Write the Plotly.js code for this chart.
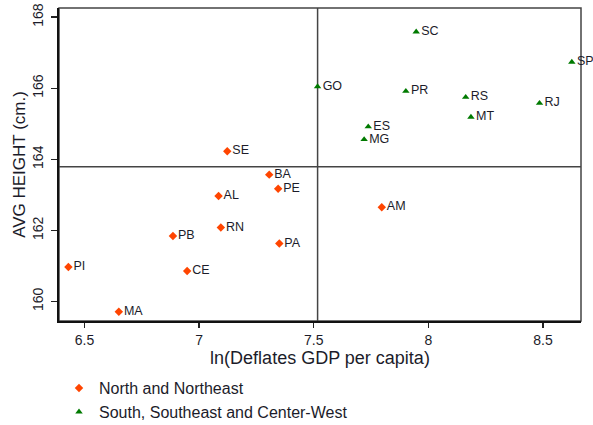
<!DOCTYPE html>
<html>
<head>
<meta charset="utf-8">
<script src="https://cdn.plot.ly/plotly-3.0.1.min.js"></script>
<style>html,body{margin:0;padding:0;background:#fff;}#chart{width:593px;height:425px;}</style>
</head>
<body>
<div id="chart"></div>
<script>
// North and Northeast
const nneStates = ["SE","BA","PE","AL","RN","PB","PA","PI","CE","MA","AM"];
const nneGdp    = [7.123, 7.306, 7.345, 7.085, 7.095, 6.886, 7.350, 6.430, 6.948, 6.650, 7.797];
const nneHeight = [164.23, 163.57, 163.17, 162.97, 162.08, 161.84, 161.63, 160.97, 160.86, 159.71, 162.65];

// South, Southeast and Center-West
const sscStates = ["SC","SP","GO","PR","RS","RJ","MT","ES","MG"];
const sscGdp    = [7.947, 8.626, 7.517, 7.902, 8.163, 8.485, 8.186, 7.738, 7.720];
const sscHeight = [167.59, 166.74, 166.05, 165.92, 165.75, 165.58, 165.19, 164.92, 164.56];

const refX = 7.517;   // vertical reference line
const refY = 163.79;  // horizontal reference line

const xTicks = [6.5, 7, 7.5, 8, 8.5];
const xTickText = ["6.5", "7", "7.5", "8", "8.5"];
const yTicks = [160, 162, 164, 166, 168];

const FONT = "Liberation Sans, Arial, sans-serif";
const TXT = "#1c1c2a";

const traces = [
  {
    x: nneGdp, y: nneHeight, text: nneStates,
    name: "North and Northeast",
    type: "scatter", mode: "markers+text", textposition: "middle right",
    marker: {symbol: "diamond", size: 6.5, color: "#FF4500"},
    textfont: {family: FONT, size: 12.5, color: TXT},
    cliponaxis: false
  },
  {
    x: sscGdp, y: sscHeight, text: sscStates,
    name: "South, Southeast and Center-West",
    type: "scatter", mode: "markers+text", textposition: "middle right",
    marker: {symbol: "triangle-up", size: 6.5, color: "#007A00"},
    textfont: {family: FONT, size: 12.5, color: TXT},
    cliponaxis: false
  }
];

const layout = {
  width: 593, height: 425,
  margin: {l: 59, r: 12, t: 8, b: 104, autoexpand: false},
  paper_bgcolor: "#fff", plot_bgcolor: "#fff",
  font: {family: FONT, color: TXT},
  showlegend: true,
  legend: {
    x: 0.0, xanchor: "left", y: -0.16, yanchor: "top",
    orientation: "v", font: {family: FONT, size: 16, color: TXT},
    bgcolor: "rgba(0,0,0,0)"
  },
  xaxis: {
    range: [6.389, 8.666],
    tickvals: xTicks, ticktext: xTickText,
    ticks: "outside", ticklen: 5, tickwidth: 1.5, tickcolor: "#222",
    ticklabelstandoff: 0,
    tickfont: {family: FONT, size: 14, color: TXT},
    showgrid: false, zeroline: false, automargin: false,
    showline: true, linewidth: 2, linecolor: "#111",
    title: {text: "ln(Deflates GDP per capita)", font: {family: FONT, size: 18, color: TXT}, standoff: 0}
  },
  yaxis: {
    range: [159.45, 168.26],
    tickvals: yTicks,
    ticks: "outside", ticklen: 6, tickwidth: 1.5, tickcolor: "#222",
    tickangle: -90,
    ticklabelstandoff: 2,
    tickfont: {family: FONT, size: 14, color: TXT},
    showgrid: false, zeroline: false, automargin: false,
    showline: true, linewidth: 2, linecolor: "#111",
    title: {text: "AVG HEIGHT (cm.)", font: {family: FONT, size: 17, color: TXT}, standoff: 0}
  },
  shapes: [
    {type: "rect", xref: "paper", yref: "paper", x0: 0, x1: 1, y0: 0, y1: 1,
     line: {color: "#444", width: 1.5}, layer: "below"},
    {type: "line", xref: "x", yref: "paper", x0: refX, x1: refX, y0: 0, y1: 1,
     line: {color: "#444", width: 1.5}, layer: "below"},
    {type: "line", xref: "paper", yref: "y", x0: 0, x1: 1, y0: refY, y1: refY,
     line: {color: "#444", width: 1.5}, layer: "below"}
  ]
};

Plotly.newPlot("chart", traces, layout, {displayModeBar: false, staticPlot: true});
</script>
</body>
</html>
